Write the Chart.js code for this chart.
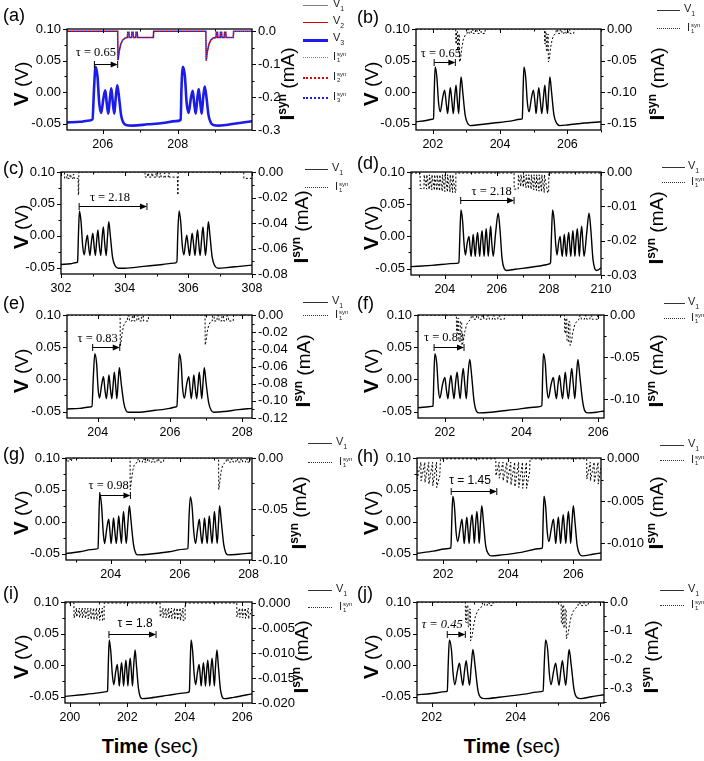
<!doctype html>
<html lang="en">
<head>
<meta charset="UTF-8" />
<title>Bursting neurons: membrane voltage and synaptic current</title>
<script src="https://cdn.jsdelivr.net/npm/chart.js"></script>
<style>
  body { margin: 0; background: #fff; }
  #page { position: relative; width: 704px; height: 761px; overflow: hidden; font-family: "Liberation Sans", Arial, sans-serif; color: #000; }
  canvas { position: absolute; }
  .txt { position: absolute; white-space: nowrap; line-height: 1; z-index: 2; }
  .tag { font-size: 18px; transform: translateY(-50%); }
  .vt { font-size: 19px; transform: translate(-50%, -50%) rotate(-90deg); }
  .vt b { font-size: 21px; }
  .vt sup { font-size: 12px; font-weight: bold; }
  .leg { font-size: 11px; transform: translateY(-50%); color: #222; }
  .leg sub { font-size: 7px; }
  .ss { display: inline-block; vertical-align: middle; font-size: 6px; line-height: 6px; margin-left: 1px; }
  .ss span { display: block; }
  .lline { position: absolute; height: 0; z-index: 2; }
  .time { font-size: 20px; transform: translate(-50%, -50%); }
</style>
</head>
<body>
<div id="page"></div>
<script>
// ---- data: [time (s), V (V)] and [time (s), Isyn (mA)] ----

const voltA = [[205.05,-0.048],[205.40,-0.047],[205.65,-0.045],[205.73,-0.043],[205.77,0.005],[205.81,0.040],[205.86,0.026],[205.91,-0.018],[205.96,-0.033],[206.02,-0.010],[206.07,0.003],[206.11,-0.018],[206.15,-0.034],[206.19,-0.012],[206.23,0.006],[206.27,-0.016],[206.31,-0.034],[206.35,-0.008],[206.39,0.011],[206.44,-0.010],[206.49,-0.036],[206.55,-0.048],[206.62,-0.052],[206.80,-0.053],[207.20,-0.051],[207.60,-0.049],[207.95,-0.046],[208.08,-0.044],[208.10,0.005],[208.14,0.040],[208.19,0.026],[208.24,-0.018],[208.29,-0.033],[208.35,-0.010],[208.40,0.002],[208.44,-0.018],[208.48,-0.034],[208.52,-0.012],[208.56,0.005],[208.60,-0.016],[208.64,-0.034],[208.68,-0.008],[208.72,0.009],[208.77,-0.010],[208.82,-0.036],[208.88,-0.048],[208.95,-0.052],[209.10,-0.053],[209.50,-0.050],[210.00,-0.046]];
const synA = [[205.05,0],[206.40,0],[206.41,-0.088],[206.44,-0.062],[206.48,-0.040],[206.53,-0.027],[206.60,-0.020],[206.66,-0.019],[206.67,-0.003],[206.70,-0.003],[206.71,-0.019],[206.77,-0.019],[206.78,-0.003],[206.81,-0.003],[206.82,-0.019],[206.88,-0.019],[206.89,-0.003],[206.92,-0.003],[206.93,-0.019],[207.35,-0.019],[207.36,0],[208.75,0],[208.76,-0.089],[208.79,-0.062],[208.83,-0.040],[208.88,-0.027],[208.95,-0.020],[209.02,-0.019],[209.03,-0.003],[209.06,-0.003],[209.07,-0.019],[209.13,-0.019],[209.14,-0.003],[209.17,-0.003],[209.18,-0.019],[209.24,-0.019],[209.25,-0.003],[209.28,-0.003],[209.29,-0.019],[209.48,-0.019],[209.49,0],[210.0,0]];

const voltB = [[201.50,-0.047],[201.80,-0.045],[201.98,-0.043],[202.02,-0.042],[202.045,0.005],[202.07,0.040],[202.12,0.024],[202.17,-0.016],[202.22,-0.031],[202.29,-0.010],[202.35,0.003],[202.40,-0.018],[202.44,-0.034],[202.48,-0.012],[202.52,0.007],[202.57,-0.016],[202.61,-0.034],[202.65,-0.008],[202.69,0.011],[202.73,-0.014],[202.77,-0.034],[202.80,-0.004],[202.84,0.024],[202.89,0.000],[202.96,-0.036],[203.03,-0.049],[203.11,-0.053],[203.30,-0.052],[203.80,-0.049],[204.30,-0.046],[204.60,-0.043],[204.66,-0.042],[204.685,0.005],[204.71,0.040],[204.76,0.024],[204.81,-0.016],[204.86,-0.031],[204.93,-0.010],[204.99,0.003],[205.04,-0.018],[205.07,-0.034],[205.11,-0.012],[205.15,0.007],[205.20,-0.016],[205.24,-0.034],[205.29,-0.008],[205.33,0.011],[205.37,-0.014],[205.41,-0.034],[205.44,-0.004],[205.48,0.024],[205.53,0.000],[205.60,-0.036],[205.68,-0.049],[205.78,-0.053],[206.00,-0.052],[206.50,-0.049],[207.00,-0.047]];
const synB = [[201.5,0],[202.68,0],[202.685,-0.022],[202.70,-0.024],[202.705,-0.004],[202.73,-0.004],[202.735,-0.033],[202.76,-0.036],[202.765,-0.010],[202.79,-0.008],[202.795,-0.052],[202.82,-0.050],[202.86,-0.030],[202.91,-0.016],[202.97,-0.009],[203.02,-0.007],[203.03,-0.001],[203.07,-0.001],[203.08,-0.007],[203.14,-0.007],[203.15,-0.001],[203.19,-0.001],[203.20,-0.007],[203.26,-0.007],[203.27,-0.001],[203.31,-0.001],[203.32,-0.007],[203.38,-0.007],[203.39,-0.001],[203.43,-0.001],[203.44,-0.007],[203.55,-0.007],[203.56,0],[205.32,0],[205.325,-0.022],[205.34,-0.024],[205.345,-0.004],[205.37,-0.004],[205.375,-0.033],[205.40,-0.036],[205.405,-0.010],[205.43,-0.008],[205.435,-0.052],[205.46,-0.050],[205.50,-0.030],[205.55,-0.016],[205.61,-0.009],[205.66,-0.007],[205.67,-0.001],[205.71,-0.001],[205.72,-0.007],[205.78,-0.007],[205.79,-0.001],[205.83,-0.001],[205.84,-0.007],[205.90,-0.007],[205.91,-0.001],[205.95,-0.001],[205.96,-0.007],[206.02,-0.007],[206.03,-0.001],[206.07,-0.001],[206.08,-0.007],[206.19,-0.007],[206.20,0],[207.0,0]];

const voltC = [[302.00,-0.045],[302.30,-0.044],[302.49,-0.042],[302.52,-0.041],[302.55,0.005],[302.58,0.039],[302.63,0.022],[302.68,-0.015],[302.73,-0.030],[302.78,-0.012],[302.83,0.001],[302.87,-0.018],[302.91,-0.031],[302.95,-0.012],[303.00,0.004],[303.04,-0.016],[303.08,-0.031],[303.12,-0.008],[303.16,0.009],[303.20,-0.014],[303.25,-0.031],[303.29,-0.004],[303.33,0.014],[303.37,-0.010],[303.42,-0.031],[303.46,-0.002],[303.50,0.022],[303.55,0.000],[303.62,-0.034],[303.70,-0.047],[303.80,-0.051],[304.00,-0.051],[304.60,-0.048],[305.20,-0.045],[305.55,-0.043],[305.64,-0.041],[305.67,0.005],[305.71,0.039],[305.76,0.022],[305.81,-0.015],[305.86,-0.030],[305.91,-0.012],[305.95,0.001],[306.00,-0.018],[306.04,-0.031],[306.08,-0.012],[306.12,0.004],[306.17,-0.016],[306.21,-0.031],[306.25,-0.008],[306.29,0.009],[306.33,-0.014],[306.37,-0.031],[306.42,-0.004],[306.46,0.014],[306.50,-0.010],[306.54,-0.031],[306.59,-0.002],[306.63,0.022],[306.68,0.000],[306.75,-0.034],[306.83,-0.047],[306.95,-0.051],[307.20,-0.050],[307.60,-0.048],[308.00,-0.046]];
const synC = [[302.00,0],[302.11,0],[302.115,-0.005],[302.18,-0.005],[302.185,-0.002],[302.21,-0.002],[302.215,-0.005],[302.28,-0.005],[302.285,-0.002],[302.31,-0.002],[302.315,-0.005],[302.38,-0.005],[302.385,-0.002],[302.41,-0.002],[302.415,-0.005],[302.54,-0.005],[302.545,-0.018],[302.555,-0.018],[302.56,0],[304.64,0],[304.645,-0.004],[304.72,-0.004],[304.725,-0.001],[304.75,-0.001],[304.755,-0.004],[304.85,-0.004],[304.855,-0.001],[304.88,-0.001],[304.885,-0.004],[304.98,-0.004],[304.985,-0.001],[305.01,-0.001],[305.015,-0.004],[305.11,-0.004],[305.115,-0.001],[305.14,-0.001],[305.145,-0.004],[305.24,-0.004],[305.245,-0.001],[305.27,-0.001],[305.275,-0.004],[305.37,-0.004],[305.375,-0.001],[305.40,-0.001],[305.405,-0.004],[305.66,-0.004],[305.665,-0.018],[305.675,-0.018],[305.68,0],[307.74,0],[307.745,-0.005],[308.0,-0.005]];

const voltD = [[202.70,-0.047],[203.50,-0.045],[204.45,-0.042],[204.54,-0.041],[204.58,0.005],[204.62,0.041],[204.68,0.025],[204.74,-0.012],[204.79,-0.029],[204.86,-0.010],[204.93,0.000],[204.97,-0.018],[205.01,-0.031],[205.05,-0.014],[205.09,0.003],[205.13,-0.016],[205.17,-0.031],[205.21,-0.010],[205.26,0.006],[205.30,-0.014],[205.34,-0.031],[205.38,-0.008],[205.43,0.009],[205.47,-0.012],[205.51,-0.031],[205.55,-0.006],[205.59,0.012],[205.63,-0.010],[205.67,-0.031],[205.72,-0.002],[205.76,0.016],[205.80,-0.008],[205.86,-0.031],[205.95,0.005],[206.05,0.036],[206.12,0.010],[206.20,-0.035],[206.28,-0.050],[206.37,-0.053],[206.70,-0.051],[207.30,-0.048],[207.90,-0.044],[208.00,-0.043],[208.06,-0.041],[208.10,0.005],[208.14,0.041],[208.20,0.025],[208.26,-0.012],[208.31,-0.029],[208.37,-0.010],[208.43,0.000],[208.47,-0.018],[208.51,-0.031],[208.55,-0.014],[208.59,0.003],[208.63,-0.016],[208.67,-0.031],[208.71,-0.010],[208.76,0.006],[208.80,-0.014],[208.84,-0.031],[208.88,-0.008],[208.92,0.009],[208.96,-0.012],[209.00,-0.031],[209.04,-0.006],[209.09,0.012],[209.13,-0.010],[209.17,-0.031],[209.21,-0.002],[209.26,0.016],[209.30,-0.008],[209.35,-0.031],[209.45,0.005],[209.54,0.036],[209.61,0.010],[209.69,-0.035],[209.76,-0.050],[209.83,-0.053],[210.00,-0.049]];
const synD = [[202.70,-0.0003],[203.05,-0.0003],[203.055,-0.0048],[203.20,-0.0049],[203.205,-0.0008],[203.30,-0.0050],[203.305,-0.0008],[203.40,-0.0051],[203.405,-0.0008],[203.50,-0.0052],[203.505,-0.0008],[203.60,-0.0053],[203.605,-0.0008],[203.70,-0.0054],[203.705,-0.0008],[203.80,-0.0055],[203.805,-0.0008],[203.90,-0.0056],[203.905,-0.0008],[204.00,-0.0057],[204.005,-0.0008],[204.10,-0.0058],[204.105,-0.0008],[204.20,-0.0059],[204.205,-0.0008],[204.30,-0.0060],[204.305,-0.0008],[204.40,-0.0060],[204.42,-0.0060],[204.425,-0.0003],[206.66,-0.0003],[206.665,-0.0050],[206.82,-0.0050],[206.825,-0.0008],[206.92,-0.0042],[206.925,-0.0008],[207.02,-0.0044],[207.025,-0.0008],[207.12,-0.0046],[207.125,-0.0008],[207.22,-0.0048],[207.225,-0.0008],[207.32,-0.0050],[207.325,-0.0008],[207.42,-0.0052],[207.425,-0.0008],[207.52,-0.0054],[207.525,-0.0008],[207.62,-0.0056],[207.625,-0.0008],[207.72,-0.0058],[207.725,-0.0008],[207.82,-0.0060],[207.825,-0.0008],[207.95,-0.0060],[207.99,-0.0060],[207.995,-0.0003],[210.0,-0.0003]];

const voltE = [[203.15,-0.046],[203.50,-0.045],[203.78,-0.043],[203.84,-0.042],[203.88,0.005],[203.92,0.040],[203.97,0.024],[204.01,-0.014],[204.05,-0.029],[204.11,-0.008],[204.16,0.004],[204.20,-0.016],[204.24,-0.030],[204.28,-0.010],[204.31,0.007],[204.35,-0.014],[204.39,-0.030],[204.43,-0.006],[204.46,0.011],[204.50,-0.012],[204.53,-0.030],[204.57,0.000],[204.60,0.018],[204.65,-0.006],[204.72,-0.036],[204.78,-0.048],[204.84,-0.051],[205.10,-0.051],[205.60,-0.048],[206.00,-0.045],[206.15,-0.043],[206.19,-0.042],[206.23,0.005],[206.26,0.040],[206.31,0.024],[206.35,-0.014],[206.40,-0.029],[206.46,-0.008],[206.52,0.004],[206.56,-0.016],[206.59,-0.030],[206.63,-0.010],[206.66,0.007],[206.70,-0.014],[206.74,-0.030],[206.78,-0.006],[206.81,0.011],[206.85,-0.012],[206.88,-0.030],[206.92,0.000],[206.95,0.018],[207.00,-0.006],[207.07,-0.036],[207.14,-0.048],[207.21,-0.051],[207.50,-0.050],[207.90,-0.047],[208.27,-0.045]];
const synE = [[203.15,0],[204.62,0],[204.625,-0.036],[204.65,-0.030],[204.68,-0.020],[204.72,-0.012],[204.77,-0.008],[204.82,-0.007],[204.83,-0.001],[204.87,-0.001],[204.88,-0.007],[204.95,-0.007],[204.96,-0.001],[205.00,-0.001],[205.01,-0.007],[205.08,-0.007],[205.09,-0.001],[205.13,-0.001],[205.14,-0.007],[205.21,-0.007],[205.22,-0.001],[205.26,-0.001],[205.27,-0.007],[205.40,-0.007],[205.41,0],[206.97,0],[206.975,-0.035],[207.00,-0.030],[207.03,-0.020],[207.07,-0.012],[207.12,-0.008],[207.17,-0.007],[207.18,-0.001],[207.22,-0.001],[207.23,-0.007],[207.30,-0.007],[207.31,-0.001],[207.35,-0.001],[207.36,-0.007],[207.43,-0.007],[207.44,-0.001],[207.48,-0.001],[207.49,-0.007],[207.56,-0.007],[207.57,-0.001],[207.61,-0.001],[207.62,-0.007],[207.75,-0.007],[207.76,0],[208.27,0]];

const voltF = [[201.30,-0.044],[201.50,-0.043],[201.66,-0.042],[201.69,-0.041],[201.715,0.005],[201.74,0.040],[201.79,0.024],[201.83,-0.014],[201.87,-0.029],[201.94,-0.008],[202.00,0.003],[202.04,-0.016],[202.08,-0.030],[202.12,-0.008],[202.16,0.006],[202.20,-0.014],[202.24,-0.030],[202.28,-0.005],[202.32,0.011],[202.36,-0.012],[202.40,-0.030],[202.44,-0.002],[202.48,0.017],[202.52,-0.008],[202.56,-0.030],[202.60,0.005],[202.65,0.031],[202.70,0.005],[202.76,-0.033],[202.82,-0.049],[202.89,-0.052],[203.20,-0.051],[203.80,-0.047],[204.40,-0.043],[204.53,-0.041],[204.55,0.005],[204.57,0.040],[204.62,0.024],[204.66,-0.014],[204.70,-0.029],[204.77,-0.008],[204.83,0.003],[204.87,-0.016],[204.91,-0.030],[204.95,-0.008],[204.99,0.006],[205.03,-0.014],[205.07,-0.030],[205.11,-0.005],[205.14,0.011],[205.18,-0.012],[205.22,-0.030],[205.27,-0.002],[205.31,0.017],[205.35,-0.008],[205.39,-0.030],[205.43,0.005],[205.47,0.031],[205.52,0.005],[205.59,-0.033],[205.65,-0.049],[205.72,-0.052],[205.95,-0.051],[206.15,-0.049]];
const synF = [[201.30,0],[202.30,0],[202.305,-0.020],[202.33,-0.022],[202.335,-0.004],[202.36,-0.004],[202.365,-0.030],[202.40,-0.032],[202.405,-0.008],[202.44,-0.008],[202.445,-0.036],[202.48,-0.032],[202.52,-0.020],[202.57,-0.011],[202.63,-0.007],[202.68,-0.005],[202.69,-0.001],[202.73,-0.001],[202.74,-0.005],[202.82,-0.005],[202.83,-0.001],[202.87,-0.001],[202.88,-0.005],[202.96,-0.005],[202.97,-0.001],[203.01,-0.001],[203.02,-0.005],[203.10,-0.005],[203.11,-0.001],[203.15,-0.001],[203.16,-0.005],[203.24,-0.005],[203.25,-0.001],[203.29,-0.001],[203.30,-0.005],[203.38,-0.005],[203.39,-0.001],[203.43,-0.001],[203.44,-0.005],[203.55,-0.005],[203.56,0],[205.12,0],[205.125,-0.020],[205.15,-0.022],[205.155,-0.004],[205.18,-0.004],[205.185,-0.030],[205.22,-0.032],[205.225,-0.008],[205.26,-0.008],[205.265,-0.036],[205.30,-0.032],[205.34,-0.020],[205.39,-0.011],[205.45,-0.007],[205.50,-0.005],[205.51,-0.001],[205.55,-0.001],[205.56,-0.005],[205.64,-0.005],[205.65,-0.001],[205.69,-0.001],[205.70,-0.005],[205.78,-0.005],[205.79,-0.001],[205.83,-0.001],[205.84,-0.005],[205.98,-0.005],[205.99,0],[206.15,0]];

const voltG = [[202.70,-0.050],[203.10,-0.047],[203.55,-0.043],[203.63,-0.042],[203.655,0.005],[203.68,0.044],[203.73,0.027],[203.78,-0.016],[203.82,-0.034],[203.88,-0.012],[203.94,0.004],[203.98,-0.018],[204.01,-0.034],[204.05,-0.012],[204.08,0.006],[204.12,-0.016],[204.16,-0.034],[204.20,-0.010],[204.23,0.009],[204.27,-0.014],[204.31,-0.034],[204.34,-0.004],[204.37,0.016],[204.41,-0.010],[204.45,-0.034],[204.50,0.000],[204.54,0.025],[204.59,0.000],[204.66,-0.036],[204.72,-0.049],[204.78,-0.052],[205.10,-0.051],[205.70,-0.047],[206.15,-0.043],[206.24,-0.042],[206.27,0.005],[206.31,0.039],[206.36,0.024],[206.41,-0.016],[206.46,-0.034],[206.52,-0.012],[206.57,0.004],[206.61,-0.018],[206.65,-0.034],[206.69,-0.012],[206.72,0.006],[206.76,-0.016],[206.80,-0.034],[206.83,-0.010],[206.86,0.009],[206.90,-0.014],[206.94,-0.034],[206.98,-0.004],[207.01,0.016],[207.05,-0.010],[207.09,-0.034],[207.13,0.000],[207.16,0.025],[207.21,0.000],[207.28,-0.036],[207.34,-0.049],[207.40,-0.052],[207.70,-0.051],[208.10,-0.049]];
const synG = [[202.70,-0.003],[202.72,-0.001],[202.74,-0.003],[202.78,-0.003],[202.79,-0.001],[202.83,-0.001],[202.84,-0.003],[202.86,-0.003],[202.87,0],[204.56,0],[204.565,-0.031],[204.60,-0.022],[204.64,-0.012],[204.68,-0.007],[204.73,-0.005],[204.78,-0.004],[204.79,-0.001],[204.83,-0.001],[204.84,-0.004],[204.92,-0.004],[204.93,-0.001],[204.97,-0.001],[204.98,-0.004],[205.06,-0.004],[205.07,-0.001],[205.11,-0.001],[205.12,-0.004],[205.20,-0.004],[205.21,-0.001],[205.25,-0.001],[205.26,-0.004],[205.34,-0.004],[205.35,-0.001],[205.39,-0.001],[205.40,-0.004],[205.53,-0.004],[205.54,0],[207.13,0],[207.135,-0.031],[207.17,-0.022],[207.21,-0.012],[207.25,-0.007],[207.30,-0.005],[207.35,-0.004],[207.36,-0.001],[207.40,-0.001],[207.41,-0.004],[207.49,-0.004],[207.50,-0.001],[207.54,-0.001],[207.55,-0.004],[207.63,-0.004],[207.64,-0.001],[207.68,-0.001],[207.69,-0.004],[207.77,-0.004],[207.78,-0.001],[207.82,-0.001],[207.83,-0.004],[207.91,-0.004],[207.92,-0.001],[207.96,-0.001],[207.97,-0.004],[208.04,-0.004],[208.05,0],[208.10,0]];

const voltH = [[201.20,-0.0495],[201.70,-0.046],[202.17,-0.042],[202.24,-0.041],[202.27,0.005],[202.30,0.040],[202.35,0.024],[202.40,-0.016],[202.45,-0.031],[202.52,-0.012],[202.58,0.004],[202.62,-0.018],[202.65,-0.034],[202.69,-0.012],[202.73,0.007],[202.77,-0.016],[202.80,-0.034],[202.84,-0.008],[202.89,0.011],[202.93,-0.012],[202.96,-0.034],[203.00,-0.004],[203.04,0.016],[203.08,-0.010],[203.11,-0.034],[203.15,0.000],[203.19,0.025],[203.24,0.000],[203.31,-0.038],[203.40,-0.051],[203.48,-0.0535],[203.80,-0.052],[204.40,-0.048],[205.00,-0.042],[205.05,-0.041],[205.075,0.005],[205.10,0.040],[205.15,0.024],[205.20,-0.016],[205.25,-0.031],[205.32,-0.012],[205.39,0.004],[205.43,-0.018],[205.46,-0.034],[205.50,-0.012],[205.54,0.007],[205.58,-0.016],[205.61,-0.034],[205.65,-0.008],[205.69,0.011],[205.73,-0.012],[205.77,-0.034],[205.81,-0.004],[205.85,0.016],[205.89,-0.010],[205.92,-0.034],[205.96,0.000],[206.00,0.025],[206.05,0.000],[206.12,-0.038],[206.20,-0.051],[206.28,-0.0535],[206.60,-0.051],[206.85,-0.049]];
const synH = [[201.20,-0.0004],[201.205,-0.0024],[201.32,-0.0004],[201.325,-0.0026],[201.44,-0.0004],[201.445,-0.0028],[201.56,-0.0004],[201.565,-0.0030],[201.68,-0.0004],[201.685,-0.0032],[201.80,-0.0004],[201.805,-0.0034],[201.90,-0.0020],[201.92,0],[203.62,0],[203.625,-0.0020],[203.72,-0.0004],[203.725,-0.0023],[203.84,-0.0004],[203.845,-0.0026],[203.96,-0.0004],[203.965,-0.0029],[204.08,-0.0004],[204.085,-0.0031],[204.20,-0.0004],[204.205,-0.0033],[204.32,-0.0004],[204.325,-0.0034],[204.44,-0.0004],[204.445,-0.0035],[204.56,-0.0004],[204.565,-0.0035],[204.66,-0.0015],[204.67,0],[206.41,0],[206.415,-0.0024],[206.52,-0.0004],[206.525,-0.0026],[206.64,-0.0004],[206.645,-0.0028],[206.76,-0.0004],[206.765,-0.0030],[206.85,-0.0010]];

const voltI = [[199.83,-0.0495],[200.40,-0.047],[201.00,-0.044],[201.28,-0.042],[201.31,-0.041],[201.34,0.005],[201.37,0.040],[201.42,0.024],[201.48,-0.016],[201.53,-0.031],[201.59,-0.012],[201.65,0.001],[201.69,-0.018],[201.72,-0.033],[201.76,-0.012],[201.80,0.004],[201.84,-0.016],[201.87,-0.033],[201.91,-0.010],[201.95,0.008],[201.99,-0.014],[202.02,-0.033],[202.06,-0.006],[202.10,0.011],[202.14,-0.010],[202.18,-0.033],[202.22,-0.002],[202.27,0.024],[202.32,-0.002],[202.39,-0.038],[202.45,-0.050],[202.52,-0.053],[202.80,-0.052],[203.40,-0.048],[204.00,-0.044],[204.13,-0.043],[204.16,-0.041],[204.19,0.005],[204.22,0.040],[204.27,0.024],[204.33,-0.016],[204.38,-0.031],[204.44,-0.012],[204.50,0.001],[204.54,-0.018],[204.57,-0.033],[204.61,-0.012],[204.65,0.004],[204.69,-0.016],[204.72,-0.033],[204.76,-0.010],[204.80,0.008],[204.84,-0.014],[204.87,-0.033],[204.91,-0.006],[204.95,0.011],[204.99,-0.010],[205.03,-0.033],[205.07,-0.002],[205.12,0.024],[205.17,-0.002],[205.24,-0.038],[205.30,-0.050],[205.37,-0.053],[205.70,-0.051],[206.34,-0.0455]];
const synI = [[199.83,0],[200.14,0],[200.145,-0.0030],[200.23,-0.0010],[200.235,-0.0028],[200.33,-0.0010],[200.335,-0.0029],[200.43,-0.0010],[200.435,-0.0030],[200.53,-0.0010],[200.535,-0.0031],[200.63,-0.0010],[200.635,-0.0032],[200.73,-0.0010],[200.735,-0.0033],[200.83,-0.0010],[200.835,-0.0034],[200.93,-0.0010],[200.935,-0.0034],[201.03,-0.0010],[201.035,-0.0035],[201.13,-0.0010],[201.135,-0.0035],[201.19,-0.0035],[201.195,0],[203.14,0],[203.145,-0.0028],[203.24,-0.0010],[203.245,-0.0029],[203.34,-0.0010],[203.345,-0.0030],[203.44,-0.0010],[203.445,-0.0031],[203.54,-0.0010],[203.545,-0.0032],[203.64,-0.0010],[203.645,-0.0033],[203.74,-0.0010],[203.745,-0.0034],[203.84,-0.0010],[203.845,-0.0035],[203.94,-0.0010],[203.945,-0.0035],[204.01,-0.0035],[204.015,0],[205.81,0],[205.815,-0.0028],[205.91,-0.0010],[205.915,-0.0029],[206.01,-0.0010],[206.015,-0.0030],[206.11,-0.0010],[206.115,-0.0031],[206.21,-0.0010],[206.215,-0.0032],[206.34,-0.0012]];

const voltJ = [[201.65,-0.047],[202.00,-0.045],[202.33,-0.042],[202.37,-0.041],[202.395,0.005],[202.42,0.040],[202.47,0.024],[202.51,-0.014],[202.55,-0.031],[202.61,-0.010],[202.66,0.003],[202.70,-0.016],[202.74,-0.032],[202.78,-0.010],[202.82,0.007],[202.86,-0.014],[202.90,-0.032],[202.94,-0.002],[202.98,0.025],[203.03,0.000],[203.10,-0.040],[203.18,-0.052],[203.26,-0.053],[203.60,-0.051],[204.20,-0.046],[204.60,-0.042],[204.65,-0.041],[204.68,0.005],[204.71,0.040],[204.76,0.024],[204.80,-0.014],[204.84,-0.031],[204.90,-0.010],[204.95,0.003],[204.99,-0.016],[205.03,-0.032],[205.07,-0.010],[205.11,0.007],[205.15,-0.014],[205.19,-0.032],[205.23,-0.002],[205.27,0.025],[205.32,0.000],[205.39,-0.040],[205.47,-0.052],[205.55,-0.053],[205.80,-0.050],[206.10,-0.047]];
const synJ = [[201.65,0],[202.80,0],[202.805,-0.070],[202.83,-0.072],[202.835,-0.012],[202.86,-0.012],[202.865,-0.085],[202.89,-0.088],[202.895,-0.025],[202.92,-0.025],[202.925,-0.135],[202.96,-0.120],[203.00,-0.080],[203.04,-0.050],[203.09,-0.032],[203.14,-0.022],[203.20,-0.015],[203.21,-0.003],[203.25,-0.003],[203.26,-0.012],[203.32,-0.012],[203.33,-0.003],[203.37,-0.003],[203.38,-0.012],[203.44,-0.012],[203.45,-0.003],[203.49,-0.003],[203.50,0],[205.08,0],[205.085,-0.075],[205.11,-0.077],[205.115,-0.012],[205.14,-0.012],[205.145,-0.088],[205.17,-0.090],[205.175,-0.025],[205.20,-0.025],[205.205,-0.128],[205.24,-0.115],[205.28,-0.078],[205.32,-0.050],[205.37,-0.032],[205.42,-0.022],[205.48,-0.015],[205.49,-0.003],[205.53,-0.003],[205.54,-0.012],[205.60,-0.012],[205.61,-0.003],[205.65,-0.003],[205.66,-0.012],[205.72,-0.012],[205.73,-0.003],[205.77,-0.003],[205.78,0],[206.10,0]];

// tau arrows: [start t, end t, arrow V, label t, label V]
const tauA = [205.78, 206.40, 0.045, 205.82, 0.062];
const tauB = [202.04, 202.67, 0.048, 202.24, 0.0615];
const tauC = [302.57, 304.70, 0.046, 303.54, 0.059];
const tauD = [204.61, 206.66, 0.056, 205.80, 0.070];
const tauE = [203.86, 204.61, 0.050, 204.00, 0.063];
const tauF = [201.72, 202.50, 0.051, 201.98, 0.064];
const tauG = [203.68, 204.57, 0.0427, 203.94, 0.057];
const tauH = [202.25, 203.65, 0.0475, 202.83, 0.065];
const tauI = [201.36, 203.00, 0.050, 202.27, 0.066];
const tauJ = [202.37, 202.80, 0.0486, 202.25, 0.064];
const tauLabels = ['τ = 0.65', 'τ = 0.65', 'τ = 2.18', 'τ = 2.18', 'τ = 0.83', 'τ = 0.83', 'τ = 0.98', 'τ = 1.45', 'τ = 1.8', 'τ = 0.45'];

// axis limits: time range, Isyn range, Isyn ticks [major, minor, decimals]
const timeRanges = [[205.05, 209.98], [201.5, 207], [302, 308], [202.7, 210], [203.15, 208.27], [201.3, 206.15], [202.7, 208.1], [201.2, 206.85], [199.83, 206.34], [201.65, 206.1]];
const synRanges = [[-0.3, 0.007], [-0.16, 0], [-0.08, 0], [-0.03, 0], [-0.12, 0], [-0.122, 0], [-0.1, 0], [-0.012, 0.0001], [-0.02, 0.0002], [-0.352, 0]];
const synTicks = [[0.1, 0.05, 1], [0.05, 0.025, 2], [0.02, 0.01, 2], [0.01, 0.005, 2], [0.02, 0.01, 2], [0.05, 0.025, 2], [0.05, 0.025, 2], [0.005, 0.0025, 3], [0.005, 0.0025, 3], [0.1, 0.05, 1]];

// ---- layout ----
const FONT = '"Liberation Sans", Arial, Helvetica, sans-serif';
const SERIF = '"Liberation Serif", "Times New Roman", serif';
const TOP = 14;   // canvas margin above the plot box (clears the half-height of the top tick labels)
const page = document.getElementById('page');

const layout = [
  { tag: 'a', box: [67, 29, 185, 101], tagPos: [3, 15], vx: 20, ix: 286, leg: null, tauFont: '12.5px ' + SERIF },
  { tag: 'b', box: [416, 29, 185, 101], tagPos: [357, 17], vx: 370, ix: 656, leg: [657, 680, 684, 10, 28], tauFont: '12.5px ' + SERIF },
  { tag: 'c', box: [61, 172, 191, 102], tagPos: [3, 168], vx: 20, ix: 300, leg: [305, 328, 332, 169, 187], tauFont: '12.5px ' + SERIF },
  { tag: 'd', box: [411, 172, 190, 103], tagPos: [357, 163], vx: 370, ix: 655, leg: [662, 685, 688, 167, 182], tauFont: '12.5px ' + SERIF },
  { tag: 'e', box: [67, 315, 185, 103], tagPos: [3, 303], vx: 20, ix: 302, leg: [303, 328, 332, 302, 315], tauFont: '12.5px ' + SERIF },
  { tag: 'f', box: [418, 315, 186, 103], tagPos: [357, 303], vx: 370, ix: 655, leg: [664, 685, 688, 303, 318], tauFont: '12.5px ' + SERIF },
  { tag: 'g', box: [66, 458, 186, 102], tagPos: [3, 454], vx: 20, ix: 298, leg: [308, 332, 336, 443, 462], tauFont: '12.5px ' + SERIF },
  { tag: 'h', box: [417, 458, 184, 102], tagPos: [357, 456], vx: 370, ix: 655, leg: [660, 684, 688, 445, 460], tauFont: '12px ' + FONT },
  { tag: 'i', box: [65, 602, 187, 101], tagPos: [3, 593], vx: 20, ix: 300, leg: [308, 332, 336, 590, 607], tauFont: '12px ' + FONT },
  { tag: 'j', box: [417, 602, 187, 101], tagPos: [357, 593], vx: 370, ix: 650, leg: [660, 684, 688, 590, 605], tauFont: 'italic 12.5px ' + SERIF }
];
const volts = [voltA, voltB, voltC, voltD, voltE, voltF, voltG, voltH, voltI, voltJ];
const syns = [synA, synB, synC, synD, synE, synF, synG, synH, synI, synJ];
const taus = [tauA, tauB, tauC, tauD, tauE, tauF, tauG, tauH, tauI, tauJ];

function isMult(v, step) { const r = v / step; return Math.abs(r - Math.round(r)) < 1e-6; }
function fmt(v, dec) { return (Math.abs(v) < 1e-9 ? 0 : v).toFixed(dec); }
const pts = arr => arr.map(([x, y]) => ({ x, y }));

// tick positions on every multiple of the minor step inside the axis range
function stepTicks(scale, step) {
  const out = [];
  const k0 = Math.ceil(scale.min / step - 1e-6), k1 = Math.floor(scale.max / step + 1e-6);
  for (let k = k0; k <= k1; k++) out.push({ value: Math.round(k * step * 1e6) / 1e6 + 0 });
  scale.ticks = out;
}

function addText(html, cls, left, top) {
  const d = document.createElement('div');
  d.className = 'txt ' + cls;
  d.innerHTML = html;
  d.style.left = left + 'px';
  d.style.top = top + 'px';
  page.appendChild(d);
}
function addLine(x1, x2, y, style) {
  const d = document.createElement('div');
  d.className = 'lline';
  d.style.left = x1 + 'px';
  d.style.top = y + 'px';
  d.style.width = (x2 - x1) + 'px';
  d.style.borderTop = style;
  page.appendChild(d);
}

function vSet(data, color, width, order) {
  return { data: pts(data), yAxisID: 'y', borderColor: color, borderWidth: width, pointRadius: 0, cubicInterpolationMode: 'monotone', order };
}
function iSet(data, color, width, order, offset) {
  return { data: pts(data), yAxisID: 'y2', borderColor: color, borderWidth: width, pointRadius: 0, tension: 0, borderDash: [2, 2], borderDashOffset: offset || 0, order };
}

// frame, tick marks and the tau arrow
const decor = {
  id: 'decor',
  afterDraw(chart, args, o) {
    const { ctx, chartArea: a, scales: { x, y, y2 } } = chart;
    ctx.save();
    ctx.strokeStyle = '#000';
    ctx.lineWidth = 1;
    ctx.beginPath();
    const mark = (scale, minor, major, draw) => {
      scale.ticks.forEach(t => {
        const v = t.value;
        if (v < scale.min - 1e-9 || v > scale.max + 1e-9 || !isMult(v, minor)) return;
        draw(Math.round(scale.getPixelForValue(v)) + 0.5, isMult(v, major) ? 4 : 2.5);
      });
    };
    mark(x, 1, 2, (px, len) => {
      ctx.moveTo(px, a.bottom); ctx.lineTo(px, a.bottom + len);
      ctx.moveTo(px, a.top); ctx.lineTo(px, a.top + len);
    });
    mark(y, 0.025, 0.05, (py, len) => { ctx.moveTo(a.left - len, py); ctx.lineTo(a.left, py); });
    mark(y2, o.iMinor, o.iMajor, (py, len) => { ctx.moveTo(a.right, py); ctx.lineTo(a.right + len, py); });
    ctx.stroke();
    ctx.lineWidth = 1.3;
    ctx.strokeRect(a.left, a.top, a.width, a.height);

    const [t0, t1, va, tt, vt] = o.tau;
    const x0 = x.getPixelForValue(t0), x1 = x.getPixelForValue(t1), ya = Math.round(y.getPixelForValue(va)) + 0.5;
    ctx.lineWidth = 1;
    ctx.beginPath();
    ctx.moveTo(x0, ya); ctx.lineTo(x1 - 5, ya);
    ctx.moveTo(x0, ya - 3.5); ctx.lineTo(x0, ya + 3.5);
    ctx.moveTo(x1, ya - 3.5); ctx.lineTo(x1, ya + 3.5);
    ctx.stroke();
    ctx.beginPath();
    ctx.moveTo(x1, ya); ctx.lineTo(x1 - 7, ya - 3); ctx.lineTo(x1 - 7, ya + 3); ctx.closePath();
    ctx.fillStyle = '#000';
    ctx.fill();
    ctx.font = o.tauFont;
    ctx.textAlign = 'center';
    ctx.textBaseline = 'middle';
    ctx.fillText(o.tauText, x.getPixelForValue(tt), y.getPixelForValue(vt));
    ctx.restore();
  }
};

layout.forEach((p, k) => {
  const [L, T, W, H] = p.box;
  const cw = W + 120, ch = H + TOP + 25;
  const cv = document.createElement('canvas');
  cv.width = cw; cv.height = ch;
  cv.style.left = (L - 60) + 'px';
  cv.style.top = (T - TOP) + 'px';
  cv.style.width = cw + 'px';
  cv.style.height = ch + 'px';
  page.appendChild(cv);

  const [iMajor, iMinor, iDec] = synTicks[k];
  const sets = k === 0
    ? [vSet(volts[0], '#1c1ce8', 2.6, 0), vSet(volts[0], '#e00000', 1, 1), vSet(volts[0], '#808080', 1, 2),
       iSet(syns[0], '#1c1ce8', 1.6, 3, 2), iSet(syns[0], '#e00000', 1.6, 4), iSet(syns[0], '#808080', 1, 5)]
    : [vSet(volts[k], '#000', 1.4, 0), iSet(syns[k], '#000', 1, 1)];
  const tickFont = { family: FONT, size: 13 };

  new Chart(cv, {
    type: 'line',
    data: { datasets: sets },
    options: {
      responsive: false,
      animation: false,
      events: [],
      layout: { padding: { top: TOP, left: 0, right: 0, bottom: 0 } },
      plugins: {
        legend: { display: false },
        tooltip: { enabled: false },
        decor: { iMajor, iMinor, tau: taus[k], tauText: tauLabels[k], tauFont: p.tauFont }
      },
      scales: {
        x: {
          type: 'linear', min: timeRanges[k][0], max: timeRanges[k][1],
          afterBuildTicks: s => stepTicks(s, 1),
          afterFit: s => { s.height = 25; },
          grid: { display: false, drawTicks: false }, border: { display: false },
          ticks: { autoSkip: false, maxRotation: 0, padding: 7, color: '#000', font: { family: FONT, size: 12.5 },
                   callback: v => isMult(v, 2) ? String(Math.round(v)) : '' }
        },
        y: {
          position: 'left', min: -0.06, max: 0.10,
          afterBuildTicks: s => stepTicks(s, 0.025),
          afterFit: s => { s.width = 60; },
          grid: { display: false, drawTicks: false }, border: { display: false },
          ticks: { autoSkip: false, padding: 6, color: '#000', font: tickFont,
                   callback: v => isMult(v, 0.05) ? fmt(v, 2) : '' }
        },
        y2: {
          position: 'right', min: synRanges[k][0], max: synRanges[k][1],
          afterBuildTicks: s => stepTicks(s, iMinor),
          afterFit: s => { s.width = 60; },
          grid: { display: false, drawTicks: false }, border: { display: false },
          ticks: { autoSkip: false, padding: 6, color: '#000', font: tickFont,
                   callback: v => isMult(v, iMajor) ? fmt(v, iDec) : '' }
        }
      }
    },
    plugins: [decor]
  });

  // labels around the panel
  const cy = T + H / 2;
  addText('(' + p.tag + ')', 'tag', p.tagPos[0], p.tagPos[1]);
  addText('<b>V</b> (V)', 'vt', p.vx, cy + 4);
  addText('<b>I<sup>syn</sup></b> (mA)', 'vt', p.ix, cy + 4);

  const iLabel = n => 'I<span class="ss"><span>syn</span><span>' + n + '</span></span>';
  if (p.leg) {
    const [x1, x2, tx, yv, yi] = p.leg;
    addLine(x1, x2, yv, '1px solid #333');
    addText('V<sub>1</sub>', 'leg', tx, yv);
    addLine(x1, x2, yi, '1px dotted #333');
    addText(iLabel(1), 'leg', tx + 3, yi);
  } else {
    const rows = [['V<sub>1</sub>', '1px solid #808080', 5], ['V<sub>2</sub>', '1.5px solid #e00000', 22], ['V<sub>3</sub>', '3px solid #1c1ce8', 39],
                  [iLabel(1), '1px dotted #808080', 57], [iLabel(2), '2px dotted #e00000', 77], [iLabel(3), '2px dotted #1c1ce8', 97]];
    rows.forEach(([html, style, yy]) => {
      addLine(303, 328, yy, style);
      addText(html, 'leg', 333, yy);
    });
  }
});

addText('<b>Time</b> (sec)', 'time', 150, 746);
addText('<b>Time</b> (sec)', 'time', 512, 746);
</script>
</body>
</html>
